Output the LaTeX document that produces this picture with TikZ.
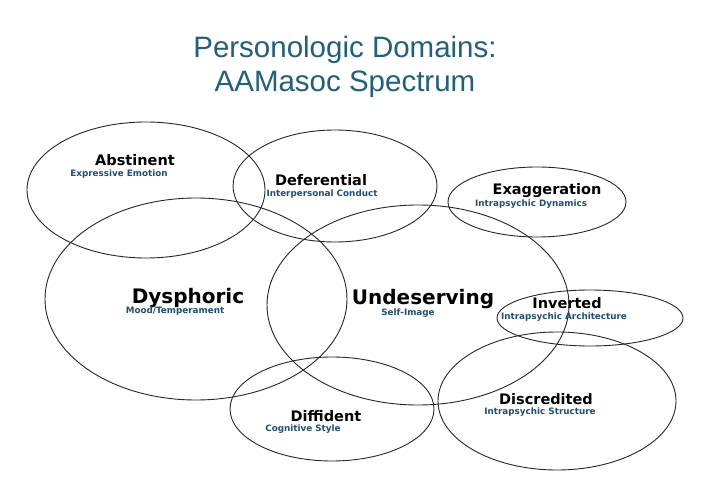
\documentclass[tikz,border=0pt]{standalone}
\usepackage{fontspec}
\setmainfont{DejaVu Sans}
\newfontfamily\titlefont{Liberation Sans}
\definecolor{titleblue}{HTML}{1F5F80}
\definecolor{subblue}{HTML}{1F4E79}
\begin{document}
\begin{tikzpicture}[x=1pt,y=-1pt,
  dom/.style={draw=black!85,line width=0.9pt},
  lab/.style={font=\fontsize{14.5}{16}\selectfont\bfseries,inner sep=0pt},
  big/.style={font=\fontsize{20}{22}\selectfont\bfseries,inner sep=0pt},
  sub/.style={font=\fontsize{8.8}{10}\selectfont\bfseries,text=subblue,inner sep=0pt}]
\useasboundingbox[fill=white] (0,0) rectangle (720,497);
\node[font=\titlefont\fontsize{29.5}{32}\selectfont,text=titleblue] (t1) at (345,50) {Personologic Domains:};
\node[font=\titlefont\fontsize{29.5}{32}\selectfont,text=titleblue] (t2) at (345,84) {AAMasoc Spectrum};
\draw[dom] (146,190) ellipse [x radius=119,y radius=68];
\draw[dom] (335,186) ellipse [x radius=102,y radius=56];
\draw[dom] (537,202) ellipse [x radius=89,y radius=35];
\draw[dom] (196,299) ellipse [x radius=151,y radius=101];
\draw[dom] (418,305) ellipse [x radius=151,y radius=100];
\draw[dom] (590,318) ellipse [x radius=93,y radius=28];
\draw[dom] (332,409) ellipse [x radius=102,y radius=52];
\draw[dom] (557,401) ellipse [x radius=119,y radius=69];
\node[lab] (a) at (135,160) {Abstinent};
\node[sub] (as) at (119,174) {Expressive Emotion};
\node[lab] (b) at (321,180) {Deferential};
\node[sub] (bs) at (322,194) {Interpersonal Conduct};
\node[lab] (c) at (547,191) {Exaggeration};
\node[sub] (cs) at (531,204) {Intrapsychic Dynamics};
\node[big] (d) at (188,298) {Dysphoric};
\node[sub] (ds) at (175,311) {Mood/Temperament};
\node[big] (e) at (423,299) {Undeserving};
\node[sub] (es) at (408,313) {Self-Image};
\node[lab] (f) at (567,303) {Inverted};
\node[sub] (fs) at (564,317) {Intrapsychic Architecture};
\node[lab] (g) at (326,416) {Diffident};
\node[sub] (gs) at (303,429) {Cognitive Style};
\node[lab] (h) at (546,399) {Discredited};
\node[sub] (hs) at (540,412) {Intrapsychic Structure};
\end{tikzpicture}
\end{document}
